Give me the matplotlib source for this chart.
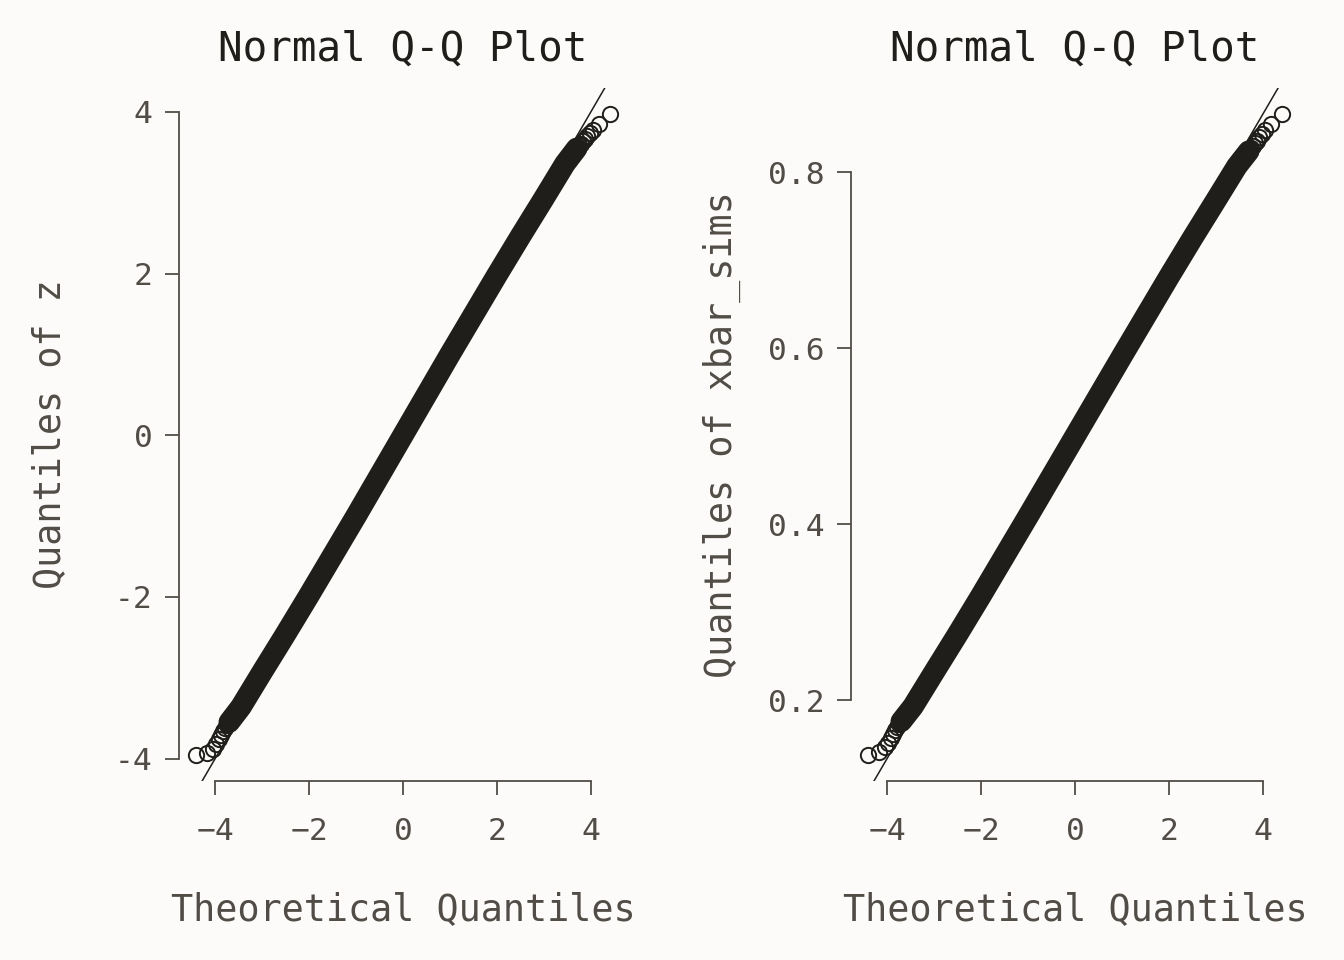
import matplotlib
matplotlib.use("Agg")
import matplotlib.pyplot as plt

# theoretical quantiles of the extreme points (n = 100000)
tail_lo_theo = [-4.417, -4.173, -4.056, -3.976, -3.916, -3.867, -3.826, -3.791, -3.759, -3.730]
tail_hi_theo = [4.417, 4.173, 4.056, 3.976, 3.916, 3.867, 3.826, 3.791, 3.759, 3.730]
# theoretical quantiles along the dense middle part
body_theo = [-3.7, -3.45, -3.0, -2.5, -2.0, -1.0, 0.0, 1.0, 2.0, 2.5, 3.0, 3.45, 3.7]

# sample quantiles of z
z_tail_lo = [-3.96, -3.93, -3.88, -3.82, -3.76, -3.71, -3.66, -3.62, -3.59, -3.57]
z_tail_hi = [3.98, 3.85, 3.78, 3.74, 3.70, 3.67, 3.64, 3.61, 3.59, 3.57]
z_body = [-3.55, -3.36, -2.93, -2.46, -1.98, -1.0, 0.0, 1.0, 1.98, 2.46, 2.93, 3.36, 3.55]

# sample quantiles of xbar_sims
xbar_tail_lo = [0.1375, 0.1413, 0.1465, 0.1520, 0.1570, 0.1615, 0.1660, 0.1700, 0.1725, 0.1745]
xbar_tail_hi = [0.8667, 0.8550, 0.8480, 0.8440, 0.8400, 0.8360, 0.8330, 0.8300, 0.8275, 0.8255]
xbar_body = [0.176, 0.193, 0.232, 0.275, 0.319, 0.409, 0.5, 0.591, 0.681, 0.725, 0.768, 0.807, 0.824]

# qqline (intercept, slope)
z_line = (0.0, 1.0)
xbar_line = (0.5, 0.0915)

x_ticks = [-4, -2, 0, 2, 4]
z_ticks = [-4, -2, 0, 2, 4]
xbar_ticks = [0.2, 0.4, 0.6, 0.8]

BG = "#fcfbf9"
INK = "#1f1e1a"
GREY = "#514d46"

plt.rcParams['font.family'] = ['DejaVu Sans Mono']

fig = plt.figure(figsize=(13.44, 9.6), dpi=100, facecolor=BG)


def qqpanel(rect, lo, hi, body, line, yticks, yfmt, ylab):
    ax = fig.add_axes(rect)
    ax.set_facecolor(BG)

    # dense middle of the sample drawn as one thick stroke
    ax.plot(body_theo, body, color=INK, lw=15.5, solid_capstyle='round', zorder=2)
    ax.plot(tail_lo_theo, lo, 'o', ms=11, mfc='none', mec=INK, mew=1.4, zorder=3)
    ax.plot(tail_hi_theo, hi, 'o', ms=11, mfc='none', mec=INK, mew=1.4, zorder=3)
    ax.axline((0, line[0]), slope=line[1], color=INK, lw=1.1, zorder=4)

    # R style ranges: data range plus 4% on each side
    xs = tail_lo_theo + tail_hi_theo
    ys = lo + hi
    xr = max(xs) - min(xs)
    yr = max(ys) - min(ys)
    ax.set_xlim(min(xs) - 0.04 * xr, max(xs) + 0.04 * xr)
    ax.set_ylim(min(ys) - 0.04 * yr, max(ys) + 0.04 * yr)

    ax.set_xticks(x_ticks)
    ax.set_yticks(yticks)
    ax.set_yticklabels([yfmt.format(t) for t in yticks])
    for side in ['top', 'right']:
        ax.spines[side].set_visible(False)
    ax.spines['bottom'].set_bounds(x_ticks[0], x_ticks[-1])
    ax.spines['left'].set_bounds(yticks[0], yticks[-1])
    for side in ['bottom', 'left']:
        ax.spines[side].set_color(GREY)
        ax.spines[side].set_linewidth(1.3)
    ax.tick_params(axis='both', color=GREY, labelcolor=GREY, width=1.3,
                   length=10, labelsize=22.5)
    ax.tick_params(axis='x', pad=16)
    ax.tick_params(axis='y', pad=9)

    ax.set_xlabel("Theoretical Quantiles", fontsize=26.5, color=GREY, va='center')
    ax.xaxis.set_label_coords(0.5, -0.186)
    ax.set_ylabel(ylab, fontsize=26.5, color=GREY, va='center')
    ax.yaxis.set_label_coords(-0.288, 0.5)
    ax.set_title("Normal Q-Q Plot", fontsize=29.5, color=INK, y=1.039, pad=0)
    return ax


qqpanel([0.1332, 0.1865, 0.3333, 0.7219], z_tail_lo, z_tail_hi, z_body,
        z_line, z_ticks, "{:g}", "Quantiles of z")
qqpanel([0.6332, 0.1865, 0.3333, 0.7219], xbar_tail_lo, xbar_tail_hi, xbar_body,
        xbar_line, xbar_ticks, "{:.1f}", "Quantiles of xbar_sims")

fig.savefig("out.png", dpi=100, facecolor=BG)
